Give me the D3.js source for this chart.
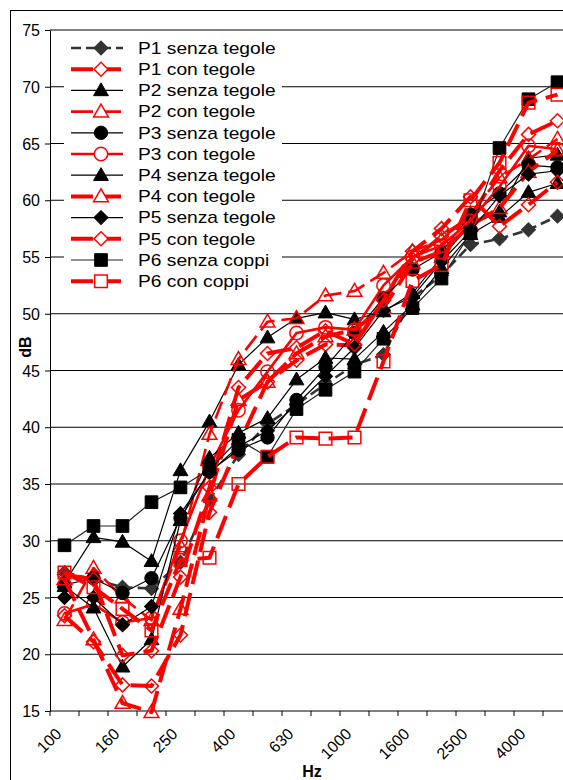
<!DOCTYPE html>
<html>
<head>
<meta charset="utf-8">
<script src="https://cdn.jsdelivr.net/npm/d3@7"></script>
<style>
  html, body { margin: 0; padding: 0; background: #fff; }
  svg { display: block; font-family: "Liberation Sans", Arial, sans-serif; }
</style>
</head>
<body>
<svg id="chart" width="563" height="780"></svg>
<script>
// Third-octave bands (Hz)
const bands = ["100","125","160","200","250","315","400","500","630","800","1000","1250","1600","2000","2500","3150","4000","5000"];
// Labels shown on the frequency axis
const bandLabels = ["100","160","250","400","630","1000","1600","2500","4000"];
// Level axis ticks (dB)
const levelTicks = [15,20,25,30,35,40,45,50,55,60,65,70,75];

// Measured levels per position, dB
const p1Senza = [27.2,26.6,25.9,25.8,28.1,33.6,37.6,40.3,42.0,43.8,45.5,46.4,51.4,53.4,56.1,56.6,57.4,58.6];
const p1Con   = [23.4,21.1,17.3,17.2,21.7,32.5,38.5,44.0,45.9,47.3,47.2,51.2,54.8,56.8,58.5,62.6,65.8,67.0];
const p2Senza = [26.3,30.3,29.9,28.2,36.2,40.5,45.5,47.9,49.6,50.1,49.5,50.2,51.8,55.0,57.8,59.0,63.7,64.0];
const p2Con   = [23.0,27.6,25.0,23.0,29.5,39.4,46.0,49.3,49.6,51.6,52.0,53.6,55.5,56.5,58.8,62.0,63.6,65.4];
const p3Senza = [26.1,26.7,25.4,26.7,32.0,36.1,38.0,39.1,42.4,45.3,48.3,51.4,53.9,55.4,58.7,60.6,63.1,62.9];
const p3Con   = [23.6,24.4,22.8,23.2,30.0,36.5,41.5,44.9,48.3,48.8,48.6,52.5,55.0,56.0,58.2,61.2,64.8,64.5];
const p4Senza = [26.0,24.1,18.9,21.3,31.8,37.3,39.5,40.8,44.2,46.1,46.0,48.4,50.8,54.0,57.0,58.5,60.7,61.5];
const p4Con   = [26.6,21.3,15.7,14.9,24.0,34.0,42.4,44.0,46.5,48.0,48.6,50.5,54.5,55.5,57.8,59.3,62.5,64.4];
const p5Senza = [25.0,25.0,22.6,24.2,32.4,36.0,38.3,39.7,42.0,44.5,47.0,50.3,51.5,54.6,57.3,60.4,62.3,62.6];
const p5Con   = [27.0,26.6,19.9,20.3,26.8,34.7,43.5,46.5,47.0,48.5,47.3,51.2,55.5,57.5,60.3,57.7,59.6,61.6];
const p6Senza = [29.6,31.3,31.3,33.4,34.7,36.3,38.9,37.4,41.6,43.3,44.9,47.8,50.5,53.1,57.1,64.6,68.9,70.4];
const p6Con   = [27.2,25.9,24.0,22.1,28.3,28.5,35.0,37.4,39.1,39.0,39.1,45.8,52.9,54.3,60.0,63.3,68.6,69.3];

const seriesNames = ["P1 senza tegole","P1 con tegole","P2 senza tegole","P2 con tegole","P3 senza tegole","P3 con tegole","P4 senza tegole","P4 con tegole","P5 senza tegole","P5 con tegole","P6 senza coppi","P6 con coppi"];
const seriesValues = [p1Senza,p1Con,p2Senza,p2Con,p3Senza,p3Con,p4Senza,p4Con,p5Senza,p5Con,p6Senza,p6Con];

// Visual style per series: line colour/width/dash, marker shape and fill
const RED = "#ff0000";
const styles = [
  {stroke:"#333333", width:2.6, dash:"10,5", shape:"diamond", fill:"#333333", mstroke:"#333333"},
  {stroke:RED, width:4, dash:"24,9", shape:"diamond", fill:"none", mstroke:RED},
  {stroke:"#000", width:1.2, dash:null, shape:"triangle", fill:"#000", mstroke:"#000"},
  {stroke:RED, width:2.6, dash:"18,7", shape:"triangle", fill:"none", mstroke:RED},
  {stroke:"#000", width:1.2, dash:null, shape:"circle", fill:"#000", mstroke:"#000"},
  {stroke:RED, width:2.6, dash:null, shape:"circle", fill:"none", mstroke:RED},
  {stroke:"#000", width:1.2, dash:null, shape:"triangle", fill:"#000", mstroke:"#000"},
  {stroke:RED, width:4, dash:"24,9", shape:"triangle", fill:"none", mstroke:RED},
  {stroke:"#000", width:1.2, dash:null, shape:"diamond", fill:"#000", mstroke:"#000"},
  {stroke:RED, width:4, dash:"24,9", shape:"diamond", fill:"none", mstroke:RED},
  {stroke:"#222", width:1.2, dash:null, shape:"square", fill:"#000", mstroke:"#000"},
  {stroke:RED, width:4, dash:"24,9", shape:"square", fill:"none", mstroke:RED}
];

const svg = d3.select("#chart");

// Outer chart frame
svg.append("rect").attr("x",10.5).attr("y",10.5).attr("width",700).attr("height",900)
  .attr("fill","none").attr("stroke","#000").attr("stroke-width",1);

const plot = {left:50, right:572, top:30, bottom:711};
const x = d3.scaleBand().domain(bands).range([plot.left, plot.right]).paddingInner(0).paddingOuter(0);
const y = d3.scaleLinear().domain([15,75]).range([plot.bottom, plot.top]);
const cx = b => x(b) + x.bandwidth()/2;

// Horizontal gridlines
svg.append("g").selectAll("line").data(levelTicks.filter(t => t > 15)).join("line")
  .attr("x1", plot.left).attr("x2", plot.right)
  .attr("y1", d => y(d)).attr("y2", d => y(d))
  .attr("stroke","#000").attr("stroke-width",1);

// Level axis
const yAxis = svg.append("g").attr("transform",`translate(${plot.left},0)`)
  .call(d3.axisLeft(y).tickValues(levelTicks).tickSize(5).tickPadding(5).tickFormat(d3.format("d")));
yAxis.select(".domain").attr("stroke","#000");
yAxis.selectAll(".tick line").attr("stroke","#000");
yAxis.selectAll(".tick text").attr("font-family","Liberation Sans, Arial, sans-serif")
  .attr("font-size",16).attr("fill","#000").attr("dy","0.35em");

// Frequency axis line and band-boundary ticks
svg.append("line").attr("x1",plot.left).attr("x2",plot.right)
  .attr("y1",plot.bottom).attr("y2",plot.bottom).attr("stroke","#000");
const edges = bands.map(b => x(b)).concat([x(bands[bands.length-1]) + x.bandwidth()]);
svg.append("g").selectAll("line").data(edges).join("line")
  .attr("x1",d=>d).attr("x2",d=>d).attr("y1",plot.bottom).attr("y2",plot.bottom+5)
  .attr("stroke","#000");
svg.append("g").selectAll("text").data(bandLabels).join("text")
  .attr("transform", d => `translate(${cx(d)-6},${plot.bottom+20}) rotate(-45)`)
  .attr("text-anchor","end").attr("dy","0.35em")
  .attr("font-size",16).attr("fill","#000").text(d => d);

// Axis titles
svg.append("text").attr("transform","translate(31,347) rotate(-90)")
  .attr("text-anchor","middle").attr("font-weight","bold").attr("font-size",16).text("dB");
svg.append("text").attr("x",312).attr("y",777)
  .attr("text-anchor","middle").attr("font-weight","bold").attr("font-size",16).text("Hz");

// Marker shapes
function markerPath(shape) {
  if (shape === "square") return d3.symbol(d3.symbolSquare, 160)();
  if (shape === "diamond") return d3.symbol(d3.symbolSquare, 98)();
  if (shape === "triangle") return d3.symbol(d3.symbolTriangle, 95)();
  return d3.symbol(d3.symbolCircle, 140)();
}
function markerTransform(shape, px, py) {
  if (shape === "diamond") return `translate(${px},${py}) rotate(45)`;
  if (shape === "triangle") return `translate(${px},${py+1})`;
  return `translate(${px},${py})`;
}

const line = d3.line().x((d,i) => cx(bands[i])).y(d => y(d));

// Series: line, then markers
const gSeries = svg.append("g");
seriesValues.forEach((vals, si) => {
  const st = styles[si];
  const g = gSeries.append("g");
  g.append("path").datum(vals).attr("d", line)
    .attr("fill","none").attr("stroke", st.stroke).attr("stroke-width", st.width)
    .attr("stroke-dasharray", st.dash).attr("stroke-linejoin","round");
  g.selectAll("path.m").data(vals).join("path").attr("class","m")
    .attr("d", markerPath(st.shape))
    .attr("transform", (d,i) => markerTransform(st.shape, cx(bands[i]), y(d)))
    .attr("fill", st.fill).attr("stroke", st.mstroke)
    .attr("stroke-width", st.fill === "none" ? 1.5 : 1);
});

// Legend
const legend = svg.append("g");
legend.append("rect").attr("x",64).attr("y",36).attr("width",218).attr("height",255).attr("fill","#fff");
seriesNames.forEach((name, i) => {
  const st = styles[i];
  const ly = 48 + i*21.2;
  const row = legend.append("g");
  row.append("line").attr("x1",71).attr("x2",123).attr("y1",ly).attr("y2",ly)
    .attr("stroke",st.stroke).attr("stroke-width",st.width).attr("stroke-dasharray", st.dash ? (st.stroke===RED ? "22,6" : "10,5") : null);
  row.append("path").attr("d", markerPath(st.shape))
    .attr("transform", markerTransform(st.shape, 101, ly))
    .attr("fill", st.fill === "none" ? "#fff" : st.fill).attr("stroke", st.mstroke)
    .attr("stroke-width", st.fill === "none" ? 1.5 : 1);
  row.append("text").attr("transform",`translate(138,${ly}) scale(1.2,1)`)
    .attr("dy","0.36em").attr("font-size",16).attr("fill","#000").text(name);
});
</script>
</body>
</html>
